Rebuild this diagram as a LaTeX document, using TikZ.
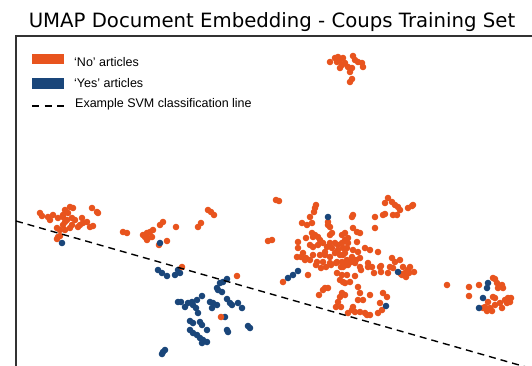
\documentclass[tikz,border=0pt]{standalone}
\usepackage{fontspec}
\newfontfamily\titlefont{DejaVu Sans}
\newfontfamily\legfont{Liberation Sans}
\definecolor{noC}{RGB}{232,84,30}
\definecolor{yesC}{RGB}{26,70,122}
\definecolor{frameC}{RGB}{50,50,50}
\tikzset{
  frameline/.style={draw=frameC,line width=1.1pt},
  svmline/.style={draw=black,line width=1.4pt,dash pattern=on 7pt off 5pt},
  legtext/.style={anchor=base west,inner sep=0pt,font=\legfont\fontsize{12.5}{14}\selectfont},
  titletext/.style={anchor=base,inner sep=0pt,font=\titlefont\fontsize{19.7}{23}\selectfont},
  dot/.style={radius=3.3pt}
}
\begin{document}
\begin{tikzpicture}[x=1pt,y=-1pt]
\useasboundingbox (0,0) rectangle (532,365);
\clip (0,0) rectangle (532,365);
% title
\node[titletext] (title) at (272,27) {UMAP Document Embedding - Coups Training Set};
% frame
\draw[frameline] (16,370) -- (16,36) -- (540,36);
% orange points
\foreach \p in {
(330,62),(335,58),(338,57),(340,60),(342,65),(343,58),(345,63),(348,67),(350,72),(353,56),(355,60),(358,62),(362,63),(363,67),(352,68),(340,68),(350,82),(352,79),(337,62),
(40,213),(42,216),(48,217),(50,220),(53,215),(57,228),(58,218),(63,215),(63,217),(65,210),(65,222),(68,213),(70,207),(73,208),(72,218),(75,220),(67,220),(60,230),(65,230),(63,225),(70,228),(72,225),(78,227),(80,225),(82,218),(83,223),(87,222),(90,227),(93,226),(92,208),(97,212),(98,213),(58,237),(57,239),(60,236),
(123,232),(127,233),(143,235),(147,233),(145,237),(148,238),(150,232),(153,230),(152,237),(147,240),(160,225),(163,222),(167,241),(159,245),(176,227),(198,227),(201,223),(208,210),(211,212),(214,215),
(276,200),(279,201),(268,241),(272,240),
(316,205),(315,208),(314,212),(310,217),(302,223),(307,225),(312,223),(328,222),(328,225),(330,227),(312,233),(315,235),(318,237),(320,240),(330,235),(332,233),(342,235),(345,233),(348,238),(298,242),(298,248),(297,257),(303,253),(305,260),(310,245),(313,247),(318,245),(323,243),(327,247),(330,243),(332,248),(335,243),(338,245),(342,243),(343,248),(345,253),(340,255),(335,253),(330,257),(325,255),(320,255),(313,255),(310,260),(317,262),(323,262),(330,263),(337,262),(342,262),(347,260),(348,265),(325,252),(338,250),
(316,265),(321,268),(326,267),(331,265),(336,263),(341,267),(346,265),(351,262),(356,260),(306,258),(301,257),(306,238),(313,237),
(353,215),(352,217),(375,217),(383,215),(385,214),(375,228),(353,228),(357,232),(360,233),(345,240),(348,243),(357,242),(347,248),(353,250),(358,252),(365,248),(370,250),(378,252),(343,255),(352,257),(360,258),(347,262),(355,263),(368,263),(372,267),(392,258),(395,262),(400,260),(380,267),(390,267),(403,267),(410,267),(343,267),(360,267),
(385,203),(388,198),(392,202),(395,205),(398,207),(400,210),(397,215),(393,215),(408,208),(412,206),(413,205),
(283,282),(308,275),(325,288),(323,290),(337,273),(340,280),(343,282),(345,283),(350,282),(355,276),(358,287),(347,275),(342,275),(361,270),(368,267),(374,273),(381,266),(381,272),
(342,293),(345,295),(340,297),(338,302),(360,293),(363,300),(358,300),(352,310),(348,313),(353,307),(355,312),(360,312),(370,315),(367,315),(365,313),(370,295),(383,293),(387,297),(380,303),(378,313),(382,310),(388,273),(393,268),(402,275),(405,273),(408,270),(409,273),(414,272),(406,277),(401,274),(336,307),(341,307),(328,288),(319,295),
(447,285),(469,287),(479,285),(469,296),(493,278),(495,279),(497,283),(498,288),(502,285),(503,288),(493,297),(495,298),(488,302),(485,307),(490,308),(495,305),(500,303),(505,300),(508,298),(510,302),(507,303),(502,308),(492,311),(487,311),(483,308),(511,298)
} \fill[noC] \p circle[dot];
% blue points
\foreach \p in {
(62,243),(160,243),(328,217),(288,278),(293,275),(298,271),(398,272),(386,306),
(488,283),(487,288),(483,298),(479,308),
(158,270),(162,273),(167,276),(175,275),(178,270),(180,273),(218,290),(220,283),(223,282),(227,279),(222,292),(217,288),(178,302),(181,302),(185,307),(188,303),(192,302),(193,305),(197,300),(202,296),(198,313),(210,302),(213,303),(217,305),(212,308),(227,299),(230,303),(232,305),(238,303),(242,308),(225,317),(190,321),(193,323),(200,322),(202,325),(207,330),(227,330),(228,332),(248,326),(250,328),(197,335),(200,338),(203,340),(207,342),(202,343),(193,333),(163,352),(162,354),(165,350),(196,308),(190,330)
} \fill[yesC] \p circle[dot];
% orange points drawn over blue
\foreach \p in {(182,267),(237,276),(221,317)} \fill[noC] \p circle[dot];
% SVM line
\coordinate (svmA) at (16,221);
\coordinate (svmB) at (540,371);
\draw[svmline] (svmA) -- (svmB);
% legend
\fill[noC] (32,54) rectangle (64,64);
\node[legtext] (leg1) at (74,66) {‘No’ articles};
\fill[yesC] (32,78) rectangle (64,89);
\node[legtext] (leg2) at (74,87) {‘Yes’ articles};
\coordinate (legA) at (32,106);
\coordinate (legB) at (64,106);
\draw[svmline,line width=1.3pt,dash pattern=on 7pt off 5.5pt] (legA) -- (legB);
\node[legtext] (leg3) at (75,107) {Example SVM classification line};
\end{tikzpicture}
\end{document}
